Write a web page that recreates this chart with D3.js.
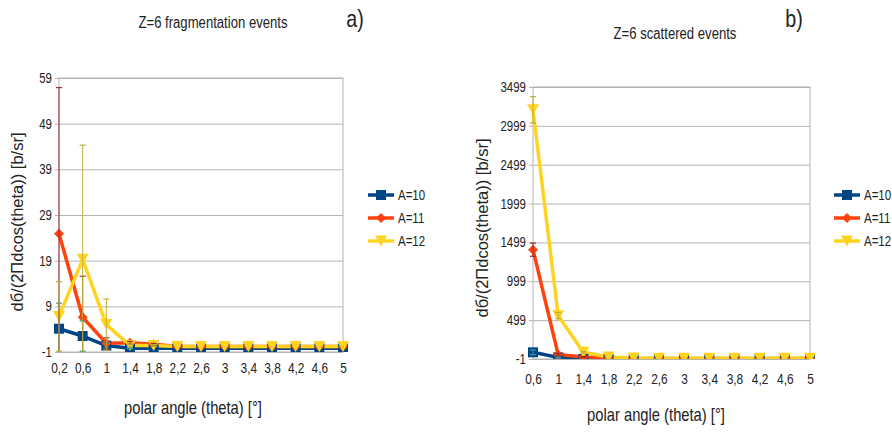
<!DOCTYPE html>
<html><head><meta charset="utf-8">
<script src="https://cdn.jsdelivr.net/npm/d3@7"></script>
<style>
body{margin:0;background:#fff;}
svg{display:block;}
text{font-family:"Liberation Sans",Arial,sans-serif;fill:#222;}
</style></head>
<body><svg id="c" width="892" height="436"></svg>
<script>
// ---- data: chart a) fragmentation events
const catsA = ["0,2","0,6","1","1,4","1,8","2,2","2,6","3","3,4","3,8","4,2","4,6","5"];
const a10 = [4.1, 2.5, 0.4, -0.2, -0.2, -0.2, -0.2, -0.2, -0.2, -0.2, -0.2, -0.2, -0.2];
const a11 = [24.9, 6.6, 0.9, 1.0, 0.7, 0.2, 0.2, 0.2, 0.2, 0.2, 0.2, 0.2, 0.2];
const a12 = [6.8, 19.3, 5.0, 0.4, 0.4, 0.2, 0.2, 0.2, 0.2, 0.2, 0.2, 0.2, 0.2];
const e10 = [5.6, 3.3, 0.5, 0.1, 0, 0, 0, 0, 0, 0, 0, 0, 0];
const e11 = [32, 9, 1.2, 0.3, 0.2, 0, 0, 0, 0, 0, 0, 0, 0];
const e12 = [7.6, 25, 5.6, 0.3, 0.2, 0, 0, 0, 0, 0, 0, 0, 0];
const ticksA = [-1, 9, 19, 29, 39, 49, 59];
// ---- data: chart b) scattered events
const catsB = ["0,6","1","1,4","1,8","2,2","2,6","3","3,4","3,8","4,2","4,6","5"];
const b10 = [85, 20, 0, 0, 0, 0, 0, 0, 0, 0, 0, 0];
const b11 = [1406, 56, 25, 8, 5, 5, 5, 5, 5, 5, 5, 5];
const b12 = [3205, 557, 85, 25, 12, 10, 10, 10, 10, 10, 10, 10];
const f10 = [30, 10, 0, 0, 0, 0, 0, 0, 0, 0, 0, 0];
const f11 = [85, 15, 5, 0, 0, 0, 0, 0, 0, 0, 0, 0];
const f12 = [170, 40, 10, 0, 0, 0, 0, 0, 0, 0, 0, 0];
const ticksB = [-1, 499, 999, 1499, 1999, 2499, 2999, 3499];
const seriesNames = ["A=10", "A=11", "A=12"];
const colors = ["#004586", "#ff420e", "#ffd320"];
const errColors = ["#3a9a9a", "#9b2a2a", "#bdb03a"];
const shapes = ["square", "diamond", "tri"];

const svg = d3.select("#c");
const SX = 0.82;

function narrow(sel, s) {
  sel.each(function () {
    const t = d3.select(this);
    const x = +t.attr("x") || 0, y = +t.attr("y") || 0;
    t.attr("x", 0).attr("y", 0).attr("transform", `translate(${x},${y}) scale(${s},1)`);
  });
}

function marker(g, shape, color, x, y) {
  if (shape === "square") {
    g.append("rect").attr("x", x - 5).attr("y", y - 5).attr("width", 10).attr("height", 10).attr("fill", color);
  } else if (shape === "diamond") {
    g.append("path").attr("d", `M${x},${y-5}L${x+5},${y}L${x},${y+5}L${x-5},${y}Z`).attr("fill", color);
  } else {
    g.append("path").attr("d", `M${x-6},${y-5.5}L${x+6},${y-5.5}L${x},${y+5.5}Z`).attr("fill", color);
  }
}

function chart(o) {
  const g = svg.append("g");
  const x = d3.scalePoint().domain(o.cats).range([o.x0, o.x1]).padding(0);
  const y = d3.scaleLinear().domain([o.ticks[0], o.ticks[o.ticks.length - 1]]).range([o.y1, o.y0]);
  const clipId = "clip" + o.id;
  svg.append("clipPath").attr("id", clipId).append("rect")
    .attr("x", o.x0 - 8).attr("y", o.y0).attr("width", o.x1 - o.x0 + 16).attr("height", o.y1 - o.y0);
  // grid
  const yAxis = d3.axisLeft(y).tickValues(o.ticks).tickSize(-(o.x1 - o.x0) - 4).tickPadding(3).tickFormat(d => d);
  const ga = g.append("g").attr("transform", `translate(${o.x0 - 4},0)`).call(yAxis);
  ga.select(".domain").remove();
  ga.selectAll(".tick line").attr("stroke", "#b3b3b3").attr("stroke-width", 1);
  ga.selectAll(".tick text").style("font-size", "14px").attr("fill", "#333");
  narrow(ga.selectAll(".tick text"), SX);
  // plot border
  g.append("rect").attr("x", o.x0).attr("y", o.y0).attr("width", o.x1 - o.x0).attr("height", o.y1 - o.y0)
    .attr("fill", "none").attr("stroke", "#b3b3b3");
  // x axis labels
  const xAxis = d3.axisBottom(x).tickSize(0).tickPadding(o.xpad);
  const gx = g.append("g").attr("transform", `translate(0,${o.y1})`).call(xAxis);
  gx.select(".domain").remove();
  gx.selectAll(".tick text").style("font-size", "14px").attr("fill", "#333");
  narrow(gx.selectAll(".tick text"), 0.85);
  // series
  const pg = g.append("g").attr("clip-path", `url(#${clipId})`);
  const line = d3.line().x((d, i) => x(o.cats[i])).y(d => y(d));
  o.series.forEach((s, k) => {
    pg.append("path").datum(s).attr("d", line).attr("fill", "none")
      .attr("stroke", colors[k]).attr("stroke-width", 3.5).attr("stroke-linejoin", "round");
  });
  o.series.forEach((s, k) => {
    s.forEach((v, i) => marker(pg, shapes[k], colors[k], x(o.cats[i]), y(v)));
  });
  // error bars
  o.errs.forEach((es, k) => {
    es.forEach((e, i) => {
      if (!e) return;
      const cx = x(o.cats[i]), v = o.series[k][i];
      const yt = y(v + e), yb = y(v - e);
      pg.append("line").attr("x1", cx).attr("x2", cx).attr("y1", yt).attr("y2", yb)
        .attr("stroke", errColors[k]).attr("stroke-width", 1);
      [yt, yb].forEach(yy => pg.append("line").attr("x1", cx - 3).attr("x2", cx + 3).attr("y1", yy).attr("y2", yy)
        .attr("stroke", errColors[k]).attr("stroke-width", 1.2));
    });
  });
  // titles
  const t1 = g.append("text").attr("x", o.tx).attr("y", o.ty).attr("text-anchor", "middle").style("font-size", "16px").text(o.title);
  narrow(t1, SX);
  const t2 = g.append("text").attr("x", o.lx).attr("y", o.ly).attr("text-anchor", "middle").style("font-size", "24px").text(o.letter);
  narrow(t2, SX);
  const t3 = g.append("text").attr("x", o.xtx).attr("y", o.xty).attr("text-anchor", "middle").style("font-size", "18px").text("polar angle (theta) [°]");
  narrow(t3, SX);
  g.append("text").attr("transform", `translate(${o.ytx},${o.yty}) rotate(-90)`).attr("text-anchor", "middle")
    .style("font-size", "16.5px").text("dб/(2Пdcos(theta)) [b/sr]");
  // legend
  seriesNames.forEach((n, k) => {
    const ly = o.legY + k * 23;
    g.append("line").attr("x1", o.legX).attr("x2", o.legX + 26).attr("y1", ly).attr("y2", ly)
      .attr("stroke", colors[k]).attr("stroke-width", 3.5);
    marker(g, shapes[k], colors[k], o.legX + 13, ly);
    const lt = g.append("text").attr("x", o.legX + 30).attr("y", ly).attr("dy", "0.35em").style("font-size", "14px").text(n);
    narrow(lt, SX);
  });
}

chart({id: "a", cats: catsA, ticks: ticksA, series: [a10, a11, a12], errs: [e10, e11, e12],
  x0: 59, x1: 343, y0: 78, y1: 352, xpad: 11,
  title: "Z=6 fragmentation events", tx: 213, ty: 28, letter: "a)", lx: 355, ly: 27,
  xtx: 193, xty: 414, ytx: 23, yty: 222, legX: 368, legY: 195});
chart({id: "b", cats: catsB, ticks: ticksB, series: [b10, b11, b12], errs: [f10, f11, f12],
  x0: 533, x1: 810, y0: 87, y1: 359, xpad: 15,
  title: "Z=6 scattered events", tx: 675, ty: 39, letter: "b)", lx: 794, ly: 27,
  xtx: 656, xty: 421, ytx: 488, yty: 228, legX: 834, legY: 195});
</script></body></html>
